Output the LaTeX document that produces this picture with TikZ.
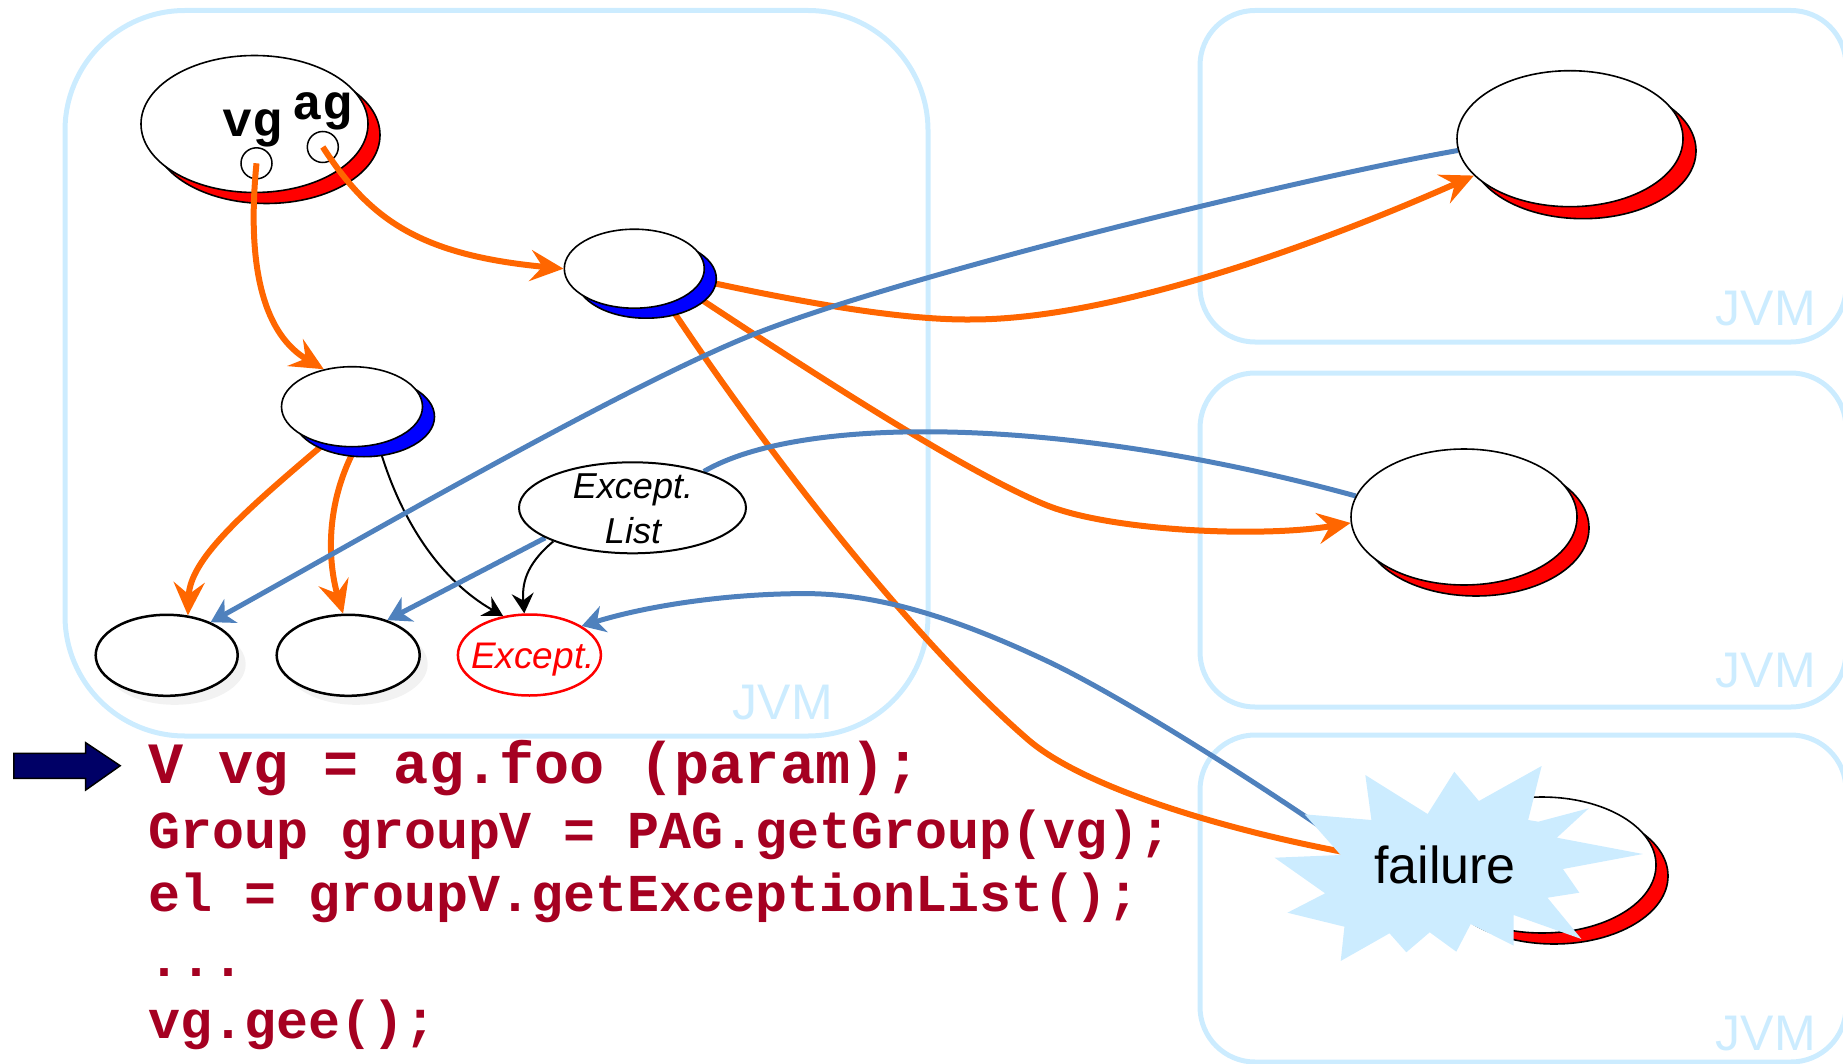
\documentclass[tikz,border=0pt]{standalone}
\usepackage{fontspec}
\setmainfont{Liberation Sans}
\newfontfamily\codefont{Liberation Mono}
\usetikzlibrary{shapes.geometric,arrows.meta,shadows}
\pgfdeclarelayer{boxes}
\pgfdeclarelayer{links}
\pgfdeclarelayer{front}
\pgfsetlayers{boxes,links,main,front}

\definecolor{jvmc}{RGB}{204,236,255}
\definecolor{orng}{RGB}{255,102,0}
\definecolor{steel}{RGB}{79,129,189}
\definecolor{coder}{RGB}{165,0,33}
\definecolor{navy}{RGB}{0,0,102}

\tikzset{
  jvmbox/.style={draw=jvmc, line width=5pt},
  jvmlbl/.style={anchor=base east, inner sep=0pt, text=jvmc, font=\fontsize{50}{60}\selectfont},
  obj/.style={ellipse, draw=black, line width=1.6pt, fill=white, inner sep=0pt},
  redsh/.style={general shadow={fill=red, draw=black, line width=1.6pt, shadow xshift=12pt, shadow yshift=-11pt}},
  bluesh/.style={general shadow={fill=blue, draw=black, line width=1.6pt, shadow xshift=12pt, shadow yshift=-10pt}},
  ghostsh/.style={general shadow={fill=black!5, shadow xshift=8pt, shadow yshift=-9pt}},
  port/.style={circle, draw=black, line width=1.5pt, minimum size=31pt, inner sep=0pt},
  varlbl/.style={anchor=base west, inner sep=0pt, font=\codefont\bfseries\fontsize{50}{60}\selectfont},
  exctxt/.style={inner sep=0pt, font=\itshape\fontsize{37}{45}\selectfont},
  codeA/.style={anchor=base west, inner sep=0pt, text=coder, font=\codefont\bfseries\fontsize{58.5}{70}\selectfont},
  codeB/.style={anchor=base west, inner sep=0pt, text=coder, font=\codefont\bfseries\fontsize{53.3}{64}\selectfont},
  olink/.style={draw=orng, line width=6pt},
  oarrow/.style={olink, -{Stealth[length=33pt,width=31pt,inset=12pt]}},
  blink/.style={draw=steel, line width=5pt},
  barrow/.style={blink, -{Stealth[length=23pt,width=27pt,inset=7pt]}},
  karrow/.style={draw=black, line width=2pt, -{Stealth[length=20pt,width=22pt,inset=7pt]}}
}

\begin{document}
\begin{tikzpicture}[x=1pt,y=-1pt]
\useasboundingbox (0,0) rectangle (1843,1064);

% JVM frames
\begin{pgfonlayer}{boxes}
  \draw[jvmbox, rounded corners=120pt] (65,10.5) rectangle (928,736);
  \draw[jvmbox, rounded corners=55pt] (1200,10.5) rectangle (1846,342);
  \draw[jvmbox, rounded corners=55pt] (1200,373) rectangle (1846,707);
  \draw[jvmbox, rounded corners=55pt] (1200,735) rectangle (1846,1062);
  \node[jvmlbl] (jvmA) at (833,719) {JVM};
  \node[jvmlbl] (jvmB) at (1816,325) {JVM};
  \node[jvmlbl] (jvmC) at (1816,687) {JVM};
  \node[jvmlbl] (jvmD) at (1816,1050) {JVM};
\end{pgfonlayer}

% objects of the local JVM
\node[obj, redsh, minimum width=227pt, minimum height=137pt] (topL) at (254.5,124) {};
\node[port] (vgc) at (256.5,163.3) {};
\node[port] (agc) at (322.8,147) {};
\node[varlbl] (vgl) at (222,136.5) {vg};
\node[varlbl] (agl) at (292,120) {ag};

\node[obj, bluesh, minimum width=140pt, minimum height=79pt] (mid) at (634.3,268.7) {};
\node[obj, bluesh, minimum width=141pt, minimum height=80pt] (midL) at (352,406.7) {};

\node[obj, ghostsh, line width=2.5pt, minimum width=142pt, minimum height=81pt] (b1) at (166.7,655.3) {};
\node[obj, ghostsh, line width=2.5pt, minimum width=143pt, minimum height=81pt] (b2) at (348.2,655.3) {};
\node[obj, draw=red, line width=2.5pt, minimum width=143pt, minimum height=81pt] (exc) at (529.4,655) {};
\node[exctxt, text=red, anchor=base] (excl) at (533,668.3) {Except.};

\node[obj, line width=2pt, minimum width=227pt, minimum height=91pt] (elist) at (632.5,507.8) {};
\node[exctxt, align=center, font=\itshape\fontsize{36}{45}\selectfont] (elistl) at (633,508.5) {Except.\\List};

% remote objects
\node[obj, general shadow={fill=red, draw=black, line width=1.6pt, shadow xshift=13pt, shadow yshift=-12pt},
      minimum width=226pt, minimum height=136pt] (tr) at (1570,138.7) {};
\node[obj, redsh, minimum width=226pt, minimum height=136pt] (mr) at (1464,517) {};
\node[obj, redsh, minimum width=228pt, minimum height=136pt] (fe) at (1542,865) {};

% failure burst
\begin{pgfonlayer}{front}
  \fill[jvmc] (1365.3,775) -- (1427.6,814) -- (1454.3,771.7) -- (1478.9,801) -- (1541.6,766)
    -- (1528.1,820) -- (1538.3,821.7) -- (1588.8,808.3) -- (1556.8,837.7) -- (1642.9,854)
    -- (1562.9,869) -- (1579.3,892.7) -- (1547.4,897.7) -- (1581.4,939) -- (1513.7,915)
    -- (1513.7,945.7) -- (1470.7,924) -- (1456.3,951.7) -- (1429.7,932.3) -- (1406.3,952.3)
    -- (1389.5,933.3) -- (1340.7,961) -- (1344.4,926.7) -- (1287.4,912.7) -- (1325.1,893.3)
    -- (1274.6,857.7) -- (1340.7,855) -- (1304.6,814.3) -- (1371.4,820) -- cycle;
  \node[anchor=base, inner sep=0pt, font=\fontsize{52}{60}\selectfont] (ftxt) at (1445,883) {failure};
\end{pgfonlayer}

% references held by vg and ag
\draw[oarrow] (vgc.center) .. controls (246,270) and (265,335) .. (midL.127.5);
\draw[oarrow] (agc.center) .. controls (370,220) and (420,255) .. (mid.west);

% remaining references, under the objects
\begin{pgfonlayer}{links}
  \draw[oarrow] (mid.350.8) .. controls (800,302) and (900,320) .. (970,319.5)
                 .. controls (1120,320) and (1340,235) .. (tr.201.1);
  \draw[oarrow] (mid.337) .. controls (790,358) and (960,470) .. (1046,505)
                 .. controls (1110,531) and (1260,538) .. (mr.183.5);
  \draw[olink] (mid.314) .. controls (777,467) and (918.5,645) .. (1028.5,740)
                 .. controls (1098.5,800) and (1300,850) .. (fe.west);
  \draw[oarrow] (midL.233.5) .. controls (240,515) and (190,560) .. (b1.62.6);
  \draw[oarrow] (midL.275) .. controls (322,510) and (330,570) .. (b2.97);

  \draw[karrow] (midL.305) .. controls (400,520) and (440,580) .. (exc.124.7);
  \draw[karrow] (elist.203) .. controls (525,565) and (522,585) .. (exc.97.5);

  \draw[barrow] (tr.186.3) .. controls (1302,178) and (902,275) .. (752,335)
                 .. controls (620,388) and (350,545) .. (b1.37);
  \draw[barrow] (elist.199.2) -- (b2.42.2);
  \draw[blink] (elist.27) .. controls (800,415) and (1060,415) .. (mr.169.8);
  \draw[barrow] (ftxt.west) .. controls (1300,810) and (1130,700) .. (1046.4,660.7)
                 .. controls (966.4,623.1) and (885,593.6) .. (805.3,593.6)
                 .. controls (730,593.6) and (650,605) .. (exc.29);
\end{pgfonlayer}

% program fragment
\draw[fill=navy, line width=1.5pt, line join=miter] (13.8,753.3) -- (85.7,753.3) -- (85.7,742.7)
  -- (120.2,765.7) -- (85.7,790) -- (85.7,778.3) -- (13.8,778.3) -- cycle;
\node[codeA] (c1) at (148,783.3) {V vg = ag.foo (param);};
\node[codeB] (c2) at (148,848.3) {Group groupV = PAG.getGroup(vg);};
\node[codeB] (c3) at (148,911.7) {el = groupV.getExceptionList();};
\node[codeB] (c4) at (148,976.7) {...};
\node[codeB] (c5) at (148,1038.3) {vg.gee();};

\end{tikzpicture}
\end{document}
